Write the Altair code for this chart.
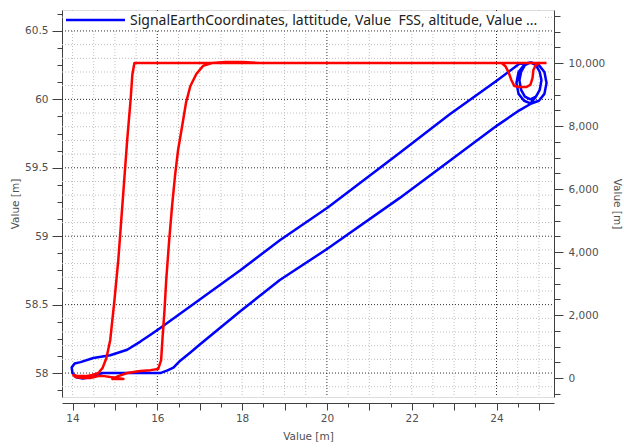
import altair as alt
import pandas as pd

# ---------------- data ----------------
# Blue series: latitude [left axis] vs x value
blue_lon = [24.54, 24.02, 22.89, 21.72, 20.02, 18.89, 17.95, 17.01, 16.07, 15.84, 15.60, 15.29, 14.89, 14.49, 14.19, 14.05,
            13.98, 14.00, 14.09, 14.24, 14.42, 14.59, 14.71,
            15.37, 16.07, 16.24, 16.38, 16.54, 16.78, 17.01, 17.95, 18.89, 20.02, 21.72, 22.89, 24.02, 24.54, 24.82,
            25.00, 25.13, 25.18, 25.13, 25.00, 24.82, 24.65, 24.52, 24.47, 24.52, 24.65, 24.80,
            24.93, 25.02, 25.06, 25.02, 24.93, 24.80, 24.67, 24.58, 24.54, 24.58, 24.67, 24.80,
            24.93, 25.02, 25.06, 25.02, 24.93, 24.80, 24.66, 24.54]
blue_lat = [60.26, 60.14, 59.89, 59.61, 59.21, 58.97, 58.75, 58.54, 58.33, 58.28, 58.23, 58.17, 58.13, 58.11, 58.08, 58.07,
            58.04, 58.00, 57.97, 57.96, 57.97, 57.99, 58.00,
            58.00, 58.00, 58.02, 58.04, 58.09, 58.15, 58.21, 58.45, 58.68, 58.91, 59.28, 59.55, 59.81, 59.92, 59.97,
            59.99, 60.04, 60.12, 60.20, 60.25, 60.27, 60.25, 60.20, 60.12, 60.04, 59.99, 59.97,
            60.02, 60.07, 60.14, 60.20, 60.25, 60.27, 60.25, 60.20, 60.14, 60.07, 60.02, 60.00,
            60.02, 60.07, 60.14, 60.20, 60.25, 60.27, 60.26, 60.26]

# Red series: altitude [right axis] vs x value
red_lon = [25.18, 25.01, 24.92, 24.87, 24.85, 24.80, 24.71, 24.54, 24.42, 24.35, 24.28, 24.21, 24.12,
           21.72, 19.37, 17.01, 15.46,
           15.41, 15.37, 15.29, 15.22, 15.15, 15.08, 14.99, 14.89, 14.80, 14.71, 14.61, 14.47, 14.31, 14.14, 14.02,
           14.07, 14.24, 14.42, 14.61, 14.75, 14.89, 15.06, 15.20, 15.04, 14.94, 15.08, 15.29, 15.60, 15.84, 16.02,
           16.09, 16.12, 16.17, 16.21, 16.28, 16.35, 16.42, 16.49, 16.59, 16.68, 16.78, 16.92, 17.08, 17.29, 17.60,
           18.02, 18.42, 25.18]
red_alt = [10000, 10000, 9920, 9780, 9530, 9310, 9240, 9240, 9270, 9460, 9720, 9900, 10000,
           10000, 10000, 10000, 10000,
           9620, 8830, 7560, 6290, 5020, 3750, 2480, 1210, 635, 320, 160, 95, 60, 60, 95,
           30, 0, 0, 60, 60, 30, 0, -30, -30, -30, 60, 160, 220, 250, 285,
           570, 1210, 2160, 3110, 4380, 5490, 6450, 7240, 8030, 8760, 9270, 9650, 9910, 10000, 10030,
           10030, 10000, 10000]

LEGEND_LABEL = "SignalEarthCoordinates, lattitude, Value\u00a0 FSS, altitude, Value ..."

# tick / grid positions
x_ticks = [14 + 0.5 * i for i in range(23)]
lat_ticks = [57.875 + 0.125 * i for i in range(23)]
alt_ticks = [-500 + 500 * i for i in range(25)]
x_grid_major = [16, 20, 24]
x_grid_minor = [v for v in x_ticks if v not in x_grid_major]
lat_grid_all = [round(57.9 + 0.1 * i, 2) for i in range(28)]
lat_grid_major = [v for v in lat_grid_all if abs(v * 2 - round(v * 2)) < 1e-6]
lat_grid_minor = [v for v in lat_grid_all if v not in lat_grid_major]

# ---------------- styling ----------------
X_DOMAIN = [13.752, 25.356]
LAT_DOMAIN = [57.825, 60.653]
ALT_DOMAIN = [-603, 11683]
AXIS_COLOR = "#404040"
LABEL_COLOR = "#505050"
FONT = "DejaVu Sans"
BLUE = "#0000ff"
RED = "#ff0000"

blue_df = pd.DataFrame({"lon": blue_lon, "lat": blue_lat, "seq": list(range(len(blue_lon)))})
red_df = pd.DataFrame({"lon": red_lon, "alt": red_alt, "seq": list(range(len(red_lon)))})

common_axis = dict(domainColor=AXIS_COLOR, tickColor=AXIS_COLOR, labelColor=LABEL_COLOR,
                   labelFont=FONT, labelFontSize=10.5, titleFont=FONT, titleFontSize=10.5,
                   titleFontWeight="normal", titleColor=LABEL_COLOR, grid=False)

x_enc = alt.X("lon:Q", scale=alt.Scale(domain=X_DOMAIN, nice=False, zero=False),
              axis=alt.Axis(values=x_ticks, title="Value [m]", offset=6,
                            labelExpr="datum.value % 2 == 0 ? format(datum.value, 'd') : ''",
                            tickSize={"condition": {"test": "datum.value % 1 == 0", "value": 7}, "value": 4},
                            labelPadding=3, titlePadding=8, **common_axis))

lat_enc = alt.Y("lat:Q", scale=alt.Scale(domain=LAT_DOMAIN, nice=False, zero=False),
                axis=alt.Axis(values=lat_ticks, title="Value [m]", orient="left",
                              labelExpr="abs(datum.value * 2 - round(datum.value * 2)) < 0.001 ? format(datum.value, '.4~g') : ''",
                              tickSize={"condition": {"test": "abs(datum.value * 2 - round(datum.value * 2)) < 0.001",
                                                      "value": 10}, "value": 5},
                              labelPadding=4, titlePadding=4, **common_axis))

alt_enc = alt.Y("alt:Q", scale=alt.Scale(domain=ALT_DOMAIN, nice=False, zero=False),
                axis=alt.Axis(values=alt_ticks, title="Value [m]", orient="right",
                              labelExpr="datum.value % 2000 == 0 ? format(datum.value, ',') : ''",
                              tickSize={"condition": {"test": "datum.value % 2000 == 0", "value": 9}, "value": 6},
                              labelPadding=5, titlePadding=7, **common_axis))


def vgrid(values, color):
    return alt.Chart(pd.DataFrame({"lon": values})).mark_rule(
        color=color, strokeWidth=1, strokeDash=[1, 2]).encode(x=x_enc)


def hgrid(values, color):
    return alt.Chart(pd.DataFrame({"lat": values})).mark_rule(
        color=color, strokeWidth=1, strokeDash=[1, 2]).encode(y=lat_enc, x=alt.value(0), x2=alt.value(492))


grid_layers = [vgrid(x_grid_minor, "#c0c0c0"), hgrid(lat_grid_minor, "#c0c0c0"),
               vgrid(x_grid_major, "#303030"), hgrid(lat_grid_major, "#303030")]

blue_line = alt.Chart(blue_df).mark_line(color=BLUE, strokeWidth=2.5, strokeJoin="round").encode(
    x=x_enc, y=lat_enc, order="seq:Q")

red_line = alt.Chart(red_df).mark_line(color=RED, strokeWidth=2.5, strokeJoin="round").encode(
    x=x_enc, y=alt_enc, order="seq:Q")

one = pd.DataFrame({"k": [0]})
legend_bg = alt.Chart(one).mark_rect(color="white").encode(
    x=alt.value(2), x2=alt.value(482), y=alt.value(2), y2=alt.value(19))
legend_sym = alt.Chart(one).mark_rule(color=BLUE, strokeWidth=2.5).encode(
    x=alt.value(4), x2=alt.value(63), y=alt.value(10))
legend_txt = alt.Chart(one).mark_text(text=LEGEND_LABEL, align="left", baseline="middle",
                                      font="Noto Sans", fontSize=14, color="#202020").encode(
    x=alt.value(68), y=alt.value(10.5))

left = alt.layer(*grid_layers, blue_line)
chart = alt.layer(left, red_line, legend_bg, legend_sym, legend_txt).resolve_scale(
    y="independent"
).properties(
    width=492, height=387,
    padding={"left": 62, "top": 10, "right": 70, "bottom": 51},
    autosize=alt.AutoSizeParams(type="none"),
).configure_view(stroke=None).configure(background="white")

chart.save("out.html", embed_options={"renderer": "svg", "actions": False})
